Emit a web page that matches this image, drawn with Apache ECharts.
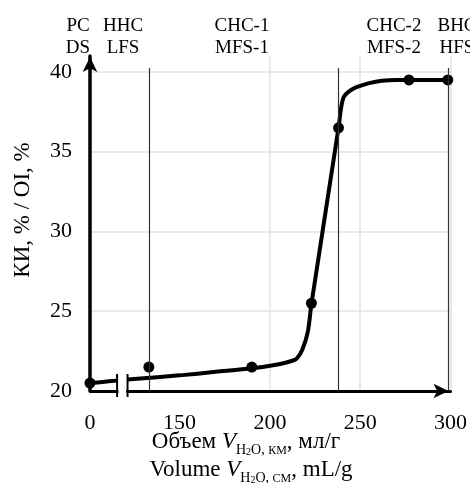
<!DOCTYPE html>
<html>
<head>
<meta charset="utf-8">
<script src="https://cdn.jsdelivr.net/npm/echarts@6/dist/echarts.min.js"></script>
<style>
html,body{margin:0;padding:0;background:#fff;}
#chart{width:470px;height:483px;}
</style>
</head>
<body>
<div id="chart"></div>
<script>
// ---- data ----
const pointX = [0, 133, 190, 223, 238, 277, 298.5];
const pointY = [20.5, 21.5, 21.5, 25.5, 36.5, 39.5, 39.5];
const curveLeftX = [0, 7, 15];
const curveLeftY = [20.5, 20.57, 20.65];
const curveRightX = [121.2, 150, 170, 190, 205, 212, 215, 218, 221, 223, 238, 239.5, 241, 244, 248, 255, 262, 270, 298.5];
const curveRightY = [20.72, 20.98, 21.2, 21.42, 21.68, 21.88, 22.05, 22.6, 23.7, 25.45, 36.5, 37.8, 38.45, 38.8, 39.05, 39.3, 39.45, 39.5, 39.5];
const markerX = [133, 238, 298.5];
const breakRange = [15, 121.2];
const xTickValues = [0, 150, 200, 250, 300];
const yTickValues = [20, 25, 30, 35, 40];
const phaseTop = ['PC', 'HHC', 'CHC-1', 'CHC-2', 'BHC'];
const phaseBottom = ['DS', 'LFS', 'MFS-1', 'MFS-2', 'HFS'];
const phaseCenters = [78, 123, 242, 394, 457];

const FONT = 'Liberation Serif';

const curveData = [];
curveLeftX.forEach((x, i) => curveData.push([x, curveLeftY[i]]));
curveData.push([ (breakRange[0] + breakRange[1]) / 2, null ]);
curveRightX.forEach((x, i) => curveData.push([x, curveRightY[i]]));
const pointData = pointX.map((x, i) => [x, pointY[i]]);

const chart = echarts.init(document.getElementById('chart'), null, {renderer: 'canvas'});

const graphics = [];
phaseTop.forEach((t, i) => {
  graphics.push({
    type: 'text', x: phaseCenters[i], y: 15, z: 10,
    style: {
      text: t + '\n' + phaseBottom[i], align: 'center', verticalAlign: 'top',
      font: '19px ' + FONT, lineHeight: 22, fill: '#000'
    }
  });
});

const richSub = {
  a: {font: '23px ' + FONT, fill: '#000', verticalAlign: 'bottom', padding: [0, 0, 4, 0]},
  i: {font: 'italic 23px ' + FONT, fill: '#000', verticalAlign: 'bottom', padding: [0, 0, 4, 0]},
  s: {font: '14px ' + FONT, fill: '#000', verticalAlign: 'bottom'},
  ss: {font: '10px ' + FONT, fill: '#000', verticalAlign: 'bottom'},
  sc: {font: '12px ' + FONT, fill: '#000', verticalAlign: 'bottom'}
};

const option = {
  animation: false,
  backgroundColor: '#fff',
  grid: {left: 90, right: 19, top: 56, bottom: 92, containLabel: false},
  xAxis: {
    type: 'value', min: 0, max: 300, interval: 50,
    breaks: [{start: breakRange[0], end: breakRange[1], gap: '2.9%'}],
    breakArea: {show: false},
    axisLine: {show: true, lineStyle: {color: '#000', width: 3},
      symbol: ['none', 'arrow'], symbolSize: [11, 15], symbolOffset: [0, -2]},
    axisTick: {show: false},
    axisLabel: {
      color: '#000', fontFamily: FONT, fontSize: 22, margin: 21,
      customValues: xTickValues, hideOverlap: false,
      formatter: v => String(v)
    },
    splitLine: {show: true, lineStyle: {color: '#e2e2e2', width: 1.5}}
  },
  yAxis: {
    type: 'value', min: 20, max: 41, interval: 5,
    axisLine: {show: true, lineStyle: {color: '#000', width: 3.5},
      symbol: ['none', 'arrow'], symbolSize: [11, 15], symbolOffset: [0, -1]},
    axisTick: {show: false},
    axisLabel: {
      color: '#000', fontFamily: FONT, fontSize: 22, margin: 18,
      formatter: v => (yTickValues.indexOf(v) >= 0 ? String(v) : '')
    },
    splitLine: {show: true, showMaxLine: false, lineStyle: {color: '#e2e2e2', width: 1.5}}
  },
  series: [
    {
      type: 'line', data: curveData, smooth: 0.3,
      connectNulls: false, showSymbol: false, symbol: 'none',
      lineStyle: {color: '#000', width: 4}, z: 3, silent: true
    },
    {
      type: 'scatter', data: pointData, symbol: 'circle', symbolSize: 11,
      itemStyle: {color: '#000', opacity: 1}, z: 4, silent: true,
      markLine: {
        silent: true, symbol: 'none', label: {show: false},
        lineStyle: {color: '#333', width: 1.2, type: 'solid', opacity: 1},
        data: markerX.map(x => [{coord: [x, 40.25]}, {coord: [x, 20]}])
      }
    },
    {
      type: 'custom', clip: false, z: 5, silent: true,
      data: [[breakRange[0], breakRange[1]]],
      renderItem: (params, api) => {
        const p1 = api.coord([api.value(0), 20]);
        const p2 = api.coord([api.value(1), 20]);
        return {
          type: 'group',
          children: [
            {type: 'rect', shape: {x: p1[0] + 1.5, y: p1[1] - 3, width: p2[0] - p1[0] - 3, height: 6},
             style: {fill: '#fff'}},
            {type: 'line', shape: {x1: p1[0], y1: p1[1] - 17, x2: p1[0], y2: p1[1] + 6},
             style: {stroke: '#000', lineWidth: 2}},
            {type: 'line', shape: {x1: p2[0], y1: p2[1] - 17, x2: p2[0], y2: p2[1] + 6},
             style: {stroke: '#000', lineWidth: 2}}
          ]
        };
      }
    }
  ],
  graphic: graphics.concat([
    {
      type: 'text', z: 10, x: 23, y: 210, rotation: Math.PI / 2,
      style: {text: 'КИ, % / OI, %', font: '23px ' + FONT, fill: '#000', align: 'center', verticalAlign: 'middle'}
    },
    {
      type: 'text', z: 10, x: 246, y: 457,
      style: {
        text: '{a|Объем }{i|V}{s|H}{ss|2}{s|O, }{sc|КМ}{a|, мл/г}',
        align: 'center', verticalAlign: 'bottom', rich: richSub
      }
    },
    {
      type: 'text', z: 10, x: 251, y: 485,
      style: {
        text: '{a|Volume }{i|V}{s|H}{ss|2}{s|O, }{sc|CM}{a|, mL/g}',
        align: 'center', verticalAlign: 'bottom', rich: richSub
      }
    }
  ])
};
chart.setOption(option);
</script>
</body>
</html>
